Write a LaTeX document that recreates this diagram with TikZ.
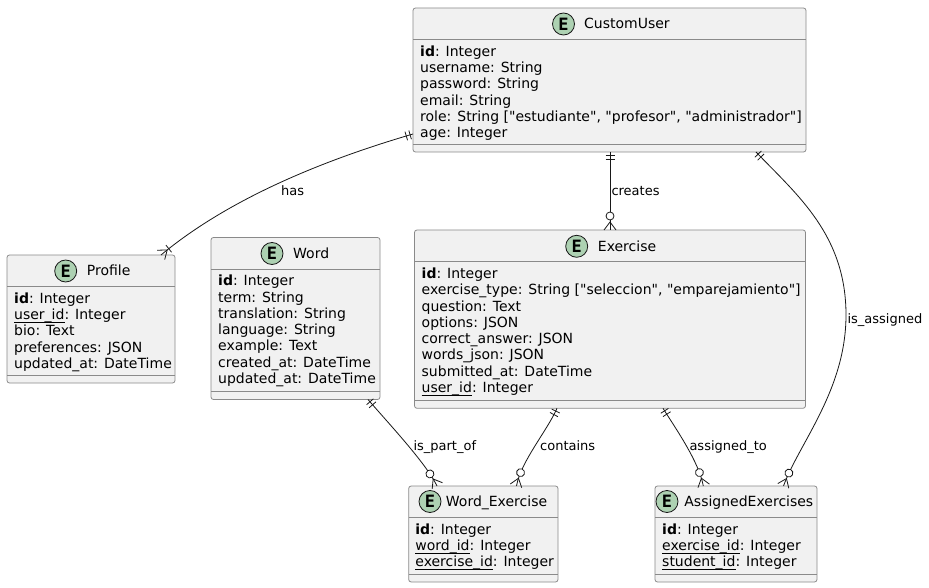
\documentclass[tikz,border=0pt]{standalone}
\usepackage{fontspec}
\setmainfont{DejaVu Sans}[Ligatures=TeXOff]
\newfontfamily\badgefam{DejaVu Sans Mono}
\usetikzlibrary{decorations.markings}

\definecolor{edge}{HTML}{181818}
\definecolor{frame}{HTML}{8A8A8A}
\definecolor{boxfill}{HTML}{F1F1F1}
\definecolor{badge}{HTML}{ADD1B2}

\newcommand{\attrfont}{\fontsize{14}{16.3}\selectfont}
\newcommand{\titlefont}{\fontsize{14}{16.3}\selectfont}
\newcommand{\lblfont}{\fontsize{13}{15}\selectfont}
\newcommand{\badgefont}{\badgefam\bfseries\fontsize{17}{17}\selectfont}
% key columns: underline sits level with the underscore glyph
\newcommand{\keyul}[1]{\setbox0\hbox{#1}\rlap{\rule[-3.4pt]{\wd0}{0.8pt}}\box0}

% entity frame: box, title separator and bottom separator
\newcommand{\entitybox}[5]{%
  \node[ebox, minimum width=#4pt, minimum height=#5pt, anchor=north west] (#1) at (#2,#3) {};
  \draw[sepline] ([yshift=-31.5pt]#1.north west) -- ([yshift=-31.5pt]#1.north east);
  \draw[sepline] ([yshift=8pt]#1.south west) -- ([yshift=8pt]#1.south east);
}

\tikzset{
  ebox/.style={draw=frame, fill=boxfill, line width=0.8pt, rounded corners=2.5pt,
    inner sep=0pt, outer sep=0pt},
  sepline/.style={draw=frame, line width=0.8pt},
  etitle/.style={font=\titlefont, anchor=base west, inner sep=0pt},
  eattr/.style={font=\attrfont, anchor=north west, inner sep=0pt, align=left},
  ebadge/.style={circle, draw=edge, fill=badge, line width=0.8pt, minimum size=22pt,
    inner sep=0pt, font=\badgefont},
  rel/.style={draw=edge, line width=0.8pt},
  relmark/.style={draw=edge, line width=0.8pt},
  lbl/.style={font=\lblfont, anchor=base west, inner sep=0pt},
  one one start/.style={postaction={decorate, decoration={markings,
    mark=at position 3pt with {\draw[relmark] (0pt,-4.5pt) -- (0pt,4.5pt);},
    mark=at position 7pt with {\draw[relmark] (0pt,-4.5pt) -- (0pt,4.5pt);}}}},
  zero many end/.style={postaction={decorate, decoration={markings,
    mark=at position -8pt with {\draw[relmark] (8pt,6pt) -- (0pt,0pt) -- (8pt,-6pt);},
    mark=at position -14pt with {\draw[relmark, fill=white] (0pt,0pt) circle[radius=4pt];}}}},
  one many end/.style={postaction={decorate, decoration={markings,
    mark=at position -8pt with {\draw[relmark] (8pt,6pt) -- (0pt,0pt) -- (8pt,-6pt);},
    mark=at position -10pt with {\draw[relmark] (0pt,-4.5pt) -- (0pt,4.5pt);}}}},
}

\begin{document}
\begin{tikzpicture}[x=1pt, y=-1pt]
\useasboundingbox[fill=white] (0,0) rectangle (929,588);

% ---------- CustomUser ----------
\entitybox{cu}{413}{8}{393}{144}
\node[ebadge] (cu-badge) at (563.5,24) {E};
\node[etitle] (cu-title) at (584,29) {CustomUser};
\node[eattr] (cu-body) at (420,44.6) {\strut\textbf{id}: Integer\\
  \strut username: String\\
  \strut password: String\\
  \strut email: String\\
  \strut role: String ["estudiante", "profesor", "administrador"]\\
  \strut age: Integer};

% ---------- Profile ----------
\entitybox{pr}{7}{255}{168}{128}
\node[ebadge] (pr-badge) at (65.7,271) {E};
\node[etitle] (pr-title) at (86.7,276) {Profile};
\node[eattr] (pr-body) at (14,291.6) {\strut\textbf{id}: Integer\\
  \strut\keyul{user\_id}: Integer\\
  \strut bio: Text\\
  \strut preferences: JSON\\
  \strut updated\_at: DateTime};

% ---------- Word ----------
\entitybox{wd}{211}{237.5}{169}{162}
\node[ebadge] (wd-badge) at (272,253.5) {E};
\node[etitle] (wd-title) at (293,258.5) {Word};
\node[eattr] (wd-body) at (218,274.1) {\strut\textbf{id}: Integer\\
  \strut term: String\\
  \strut translation: String\\
  \strut language: String\\
  \strut example: Text\\
  \strut created\_at: DateTime\\
  \strut updated\_at: DateTime};

% ---------- Exercise ----------
\entitybox{ex}{414.5}{230}{391}{178.3}
\node[ebadge] (ex-badge) at (576.7,246.3) {E};
\node[etitle] (ex-title) at (597.7,251.3) {Exercise};
\node[eattr] (ex-body) at (421.5,266.8) {\strut\textbf{id}: Integer\\
  \strut exercise\_type: String ["seleccion", "emparejamiento"]\\
  \strut question: Text\\
  \strut options: JSON\\
  \strut correct\_answer: JSON\\
  \strut words\_json: JSON\\
  \strut submitted\_at: DateTime\\
  \strut\keyul{user\_id}: Integer};

% ---------- Word_Exercise ----------
\entitybox{we}{408.7}{486}{149.3}{96}
\node[ebadge] (we-badge) at (430,501.5) {E};
\node[etitle] (we-title) at (445.7,506.5) {Word\_Exercise};
\node[eattr] (we-body) at (415.2,522.6) {\strut\textbf{id}: Integer\\
  \strut\keyul{word\_id}: Integer\\
  \strut\keyul{exercise\_id}: Integer};

% ---------- AssignedExercises ----------
\entitybox{ae}{655}{486}{162}{96}
\node[ebadge] (ae-badge) at (667,501.5) {E};
\node[etitle] (ae-title) at (684.2,506.5) {AssignedExercises};
\node[eattr] (ae-body) at (662,522.6) {\strut\textbf{id}: Integer\\
  \strut\keyul{exercise\_id}: Integer\\
  \strut\keyul{student\_id}: Integer};

% ---------- relationship end points ----------
\coordinate (has-a) at (413,134);
\coordinate (has-b) at (161,255);
\coordinate (cr-a) at (610,152);
\coordinate (cr-b) at (610,230);
\coordinate (ia-a) at (756,152);
\coordinate (ia-b) at (783.5,486);
\coordinate (pp-a) at (368,399.5);
\coordinate (pp-b) at (437,486);
\coordinate (ct-a) at (557,408.3);
\coordinate (ct-b) at (516.5,486);
\coordinate (at-a) at (663,408.3);
\coordinate (at-b) at (703.3,486);

% ---------- relationships ----------
\draw[rel, one one start, one many end] (has-a) .. controls (326.6,159.2) and (230.3,197.4) .. (has-b);
\draw[rel, one one start, zero many end] (cr-a) -- (cr-b);
\draw[rel, one one start, zero many end] (ia-a) .. controls (797.4,195.2) and (846,235) .. (846,315)
  .. controls (846,390) and (798.8,443.7) .. (ia-b);
\draw[rel, one one start, zero many end] (pp-a) .. controls (387.8,422.5) and (426.3,463.5) .. (pp-b);
\draw[rel, one one start, zero many end] (ct-a) .. controls (547,431) and (520.8,461.5) .. (ct-b);
\draw[rel, one one start, zero many end] (at-a) .. controls (676,429) and (698.8,461.5) .. (at-b);

% ---------- relationship labels ----------
\node[lbl] (has-lbl) at (281,196) {has};
\node[lbl] (cr-lbl) at (611.3,196) {creates};
\node[lbl] (ia-lbl) at (847.3,323.5) {is\_assigned};
\node[lbl] (pp-lbl) at (413.3,450.7) {is\_part\_of};
\node[lbl] (ct-lbl) at (540,450.7) {contains};
\node[lbl] (at-lbl) at (689.3,450.7) {assigned\_to};
\end{tikzpicture}
\end{document}
